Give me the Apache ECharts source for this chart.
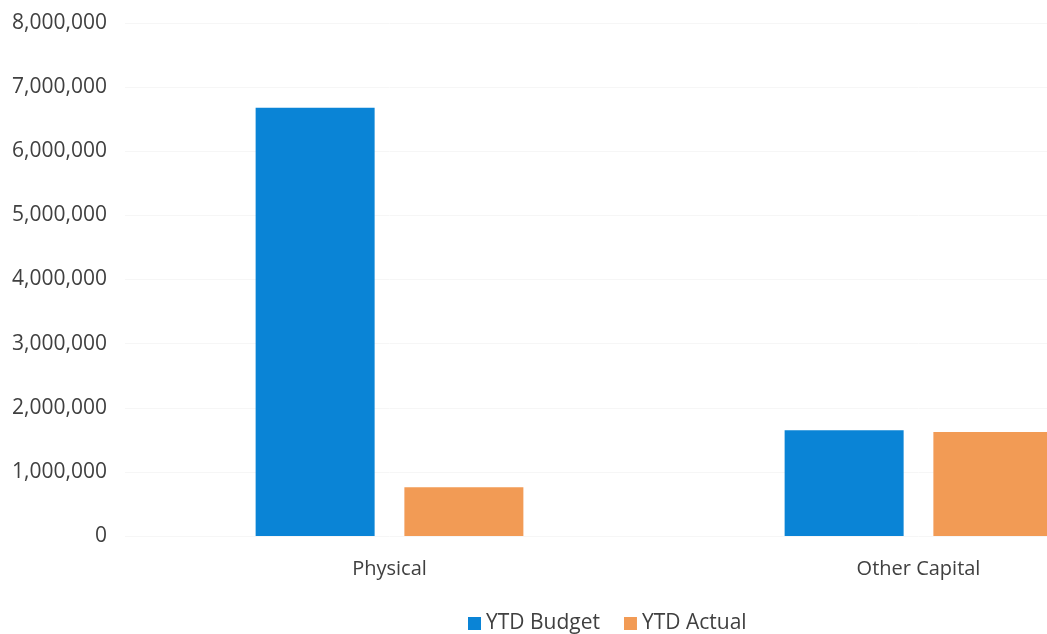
<!DOCTYPE html>
<html>
<head>
<meta charset="utf-8">
<script src="https://cdn.jsdelivr.net/npm/echarts@6/dist/echarts.min.js"></script>
<style>
html,body{margin:0;padding:0;background:#fff;overflow:hidden;}
#wrap{width:1047px;height:634px;overflow:hidden;position:relative;}
#chart{width:1190px;height:634px;}
</style>
</head>
<body>
<div id="wrap"><div id="chart"></div></div>
<script>
const categories = ['Physical', 'Other Capital'];
const ytdBudget = [6680000, 1650000];
const ytdActual = [760000, 1620000];
const seriesNames = ['YTD Budget', 'YTD Actual'];

const chart = echarts.init(document.getElementById('chart'));
const font = 'Open Sans';
chart.setOption({
  animation: false,
  backgroundColor: '#ffffff',
  grid: { left: 125, right: 7, top: 23, bottom: 98 },
  legend: {
    top: 608,
    left: 463,
    itemWidth: 13,
    itemHeight: 13,
    itemGap: 24,
    icon: 'rect',
    textStyle: { fontFamily: font, fontSize: 21, color: '#404040' },
    data: seriesNames
  },
  xAxis: {
    type: 'category',
    data: categories,
    axisLine: { show: false },
    axisTick: { show: false },
    axisLabel: { fontFamily: font, fontSize: 20, color: '#404040', margin: 23 }
  },
  yAxis: {
    type: 'value',
    min: 0,
    max: 8000000,
    interval: 1000000,
    axisLine: { show: false },
    axisTick: { show: false },
    splitLine: { show: true, lineStyle: { color: '#f6f6f6', width: 1 } },
    axisLabel: {
      fontFamily: font, fontSize: 21, color: '#404040', margin: 18,
      formatter: v => v.toLocaleString('en-US')
    }
  },
  series: [
    { name: seriesNames[0], type: 'bar', data: ytdBudget, barWidth: 119, barGap: '25%', itemStyle: { color: '#0A84D6' } },
    { name: seriesNames[1], type: 'bar', data: ytdActual, barWidth: 119, barGap: '25%', itemStyle: { color: '#F29B55' } }
  ]
});
</script>
</body>
</html>
